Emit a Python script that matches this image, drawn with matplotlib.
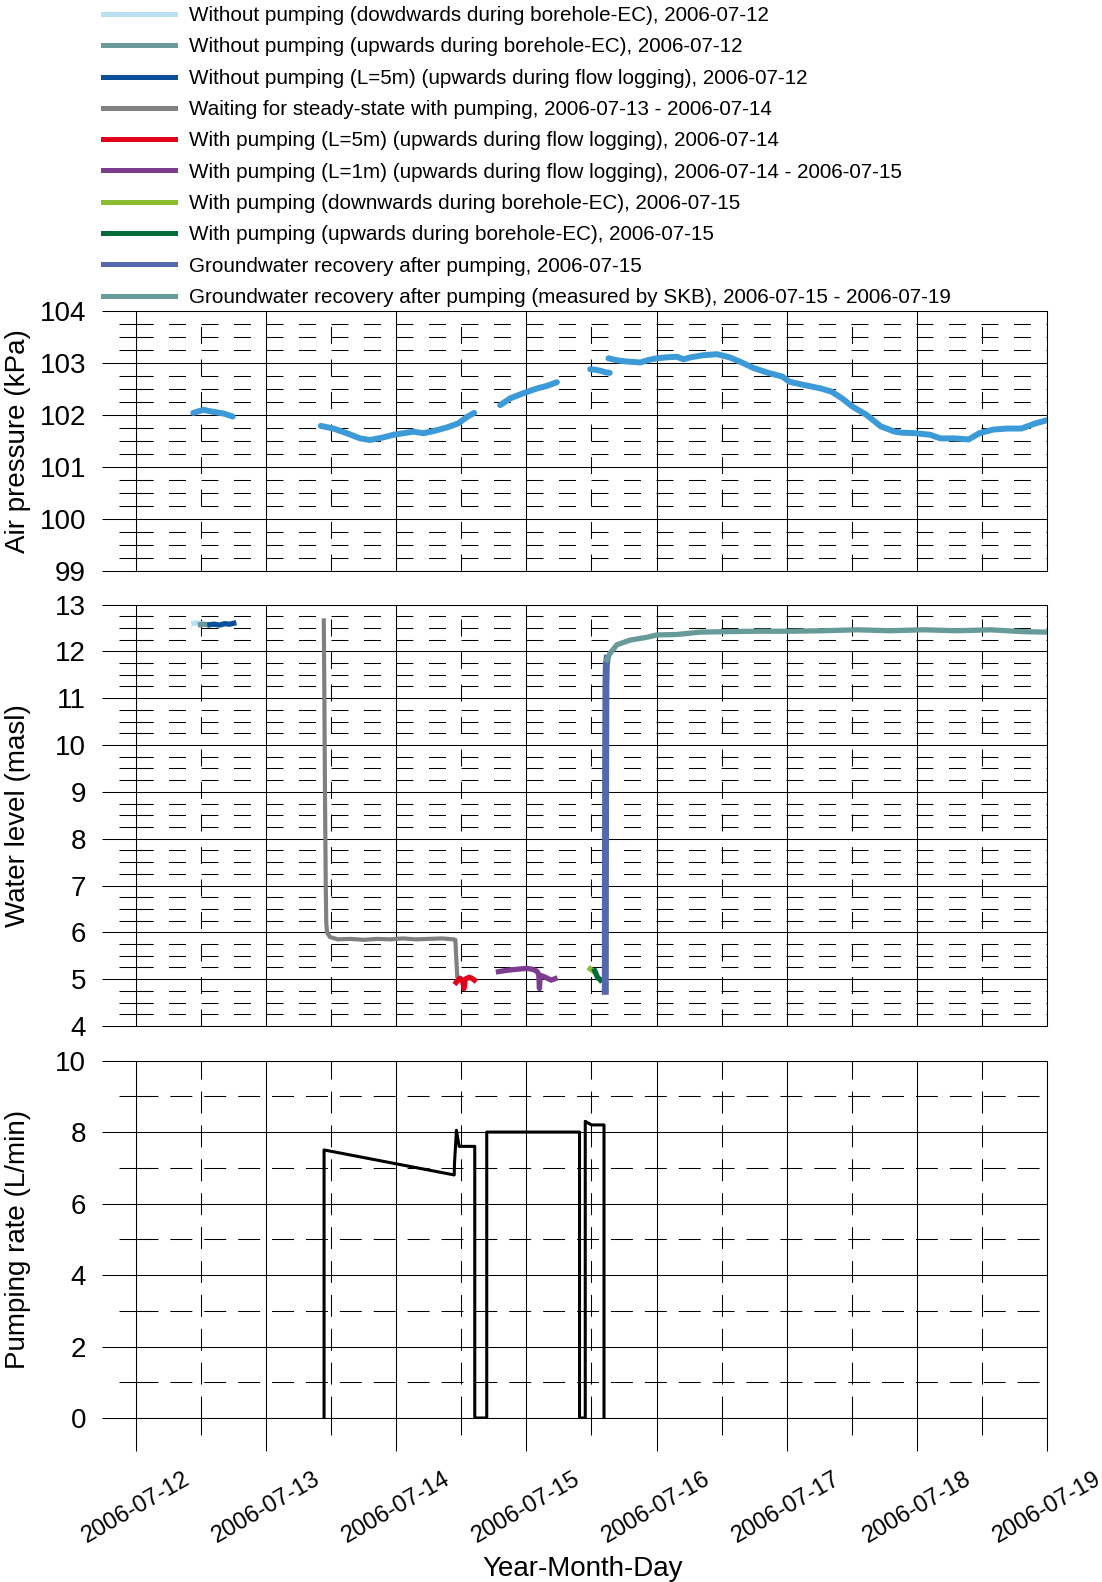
import numpy as np
import matplotlib
matplotlib.use("Agg")
import matplotlib.pyplot as plt
import matplotlib.dates as mdates
from matplotlib.lines import Line2D
from matplotlib.ticker import MultipleLocator
from datetime import datetime

plt.rcParams['font.family'] = ['Liberation Sans', 'DejaVu Sans']
plt.rcParams['lines.scale_dashes'] = False

# time values are days since 2006-07-12 00:00
start = mdates.date2num(datetime(2006, 7, 12))

# ---- Air pressure (kPa), measured in segments ----
air_t1 = [0.44, 0.517, 0.594, 0.671, 0.743]
air_p1 = [102.04, 102.10, 102.06, 102.03, 101.97]

air_t2 = [1.420, 1.517, 1.619, 1.722, 1.799, 1.901, 1.978, 2.055, 2.131,
          2.208, 2.285, 2.388, 2.477, 2.542, 2.598]
air_p2 = [101.79, 101.74, 101.65, 101.55, 101.52, 101.57, 101.62, 101.65,
          101.68, 101.65, 101.69, 101.76, 101.84, 101.96, 102.04]

air_t3 = [2.798, 2.875, 2.977, 3.080, 3.157, 3.234]
air_p3 = [102.19, 102.32, 102.42, 102.51, 102.56, 102.63]

air_t4 = [3.49, 3.53, 3.57, 3.61, 3.64]
air_p4 = [102.88, 102.87, 102.85, 102.82, 102.81]

air_t5 = [3.63, 3.70, 3.77, 3.874, 3.94, 4.00, 4.08, 4.156, 4.207, 4.263,
          4.361, 4.463, 4.56, 4.655, 4.749, 4.858, 4.966, 5.020, 5.128,
          5.263, 5.344, 5.425, 5.506, 5.615, 5.723, 5.831, 5.885, 5.993,
          6.101, 6.182, 6.290, 6.398, 6.480, 6.587, 6.696, 6.804, 6.912, 7.0]
air_p5 = [103.09, 103.05, 103.03, 103.01, 103.06, 103.09, 103.11, 103.12,
          103.07, 103.11, 103.15, 103.17, 103.11, 103.01, 102.90, 102.81,
          102.74, 102.64, 102.58, 102.51, 102.45, 102.32, 102.16, 102.00,
          101.78, 101.68, 101.66, 101.65, 101.62, 101.55, 101.55, 101.53,
          101.65, 101.72, 101.74, 101.74, 101.84, 101.90]

air_segments = [(air_t1, air_p1), (air_t2, air_p2), (air_t3, air_p3),
                (air_t4, air_p4), (air_t5, air_p5)]

# ---- Water level (masl), one series per phase ----
series = [
    ("Without pumping (dowdwards during borehole-EC), 2006-07-12", "#b9e1f2",
     [0.445, 0.47, 0.495], [12.60, 12.61, 12.59]),
    ("Without pumping (upwards during borehole-EC), 2006-07-12", "#6a9b98",
     [0.495, 0.52, 0.549], [12.57, 12.58, 12.57]),
    ("Without pumping (L=5m) (upwards during flow logging), 2006-07-12", "#0b4f9c",
     [0.568, 0.60, 0.64, 0.68, 0.72, 0.751], [12.57, 12.58, 12.56, 12.59, 12.58, 12.60]),
    ("Waiting for steady-state with pumping, 2006-07-13 - 2006-07-14", "#808080",
     [1.443, 1.447, 1.452, 1.458, 1.462, 1.468, 1.49, 1.55, 1.65, 1.75, 1.85,
      1.95, 2.05, 2.15, 2.25, 2.35, 2.44, 2.454, 2.46, 2.468],
     [12.66, 11.2, 9.0, 7.0, 6.2, 6.0, 5.90, 5.85, 5.86, 5.84, 5.86, 5.85,
      5.87, 5.85, 5.86, 5.87, 5.85, 5.84, 5.5, 5.07]),
    ("With pumping (L=5m) (upwards during flow logging), 2006-07-14", "#e2001a",
     [2.46, 2.475, 2.49, 2.51, 2.52, 2.53, 2.56, 2.58, 2.60],
     [4.93, 4.98, 5.02, 4.96, 4.80, 5.00, 5.04, 5.02, 4.98]),
    ("With pumping (L=1m) (upwards during flow logging), 2006-07-14 - 2006-07-15", "#7d3c8f",
     [2.785, 2.85, 2.92, 3.00, 3.05, 3.08, 3.095, 3.10, 3.105, 3.13, 3.16, 3.19, 3.22],
     [5.16, 5.19, 5.21, 5.23, 5.21, 5.17, 5.10, 4.80, 5.08, 5.06, 5.02, 4.98, 5.01]),
    ("With pumping (downwards during borehole-EC), 2006-07-15", "#8abd30",
     [3.49, 3.50, 3.51, 3.525], [5.22, 5.20, 5.18, 5.15]),
    ("With pumping (upwards during borehole-EC), 2006-07-15", "#006a3a",
     [3.525, 3.54, 3.55, 3.565, 3.57], [5.18, 5.08, 5.02, 5.00, 4.98]),
    ("Groundwater recovery after pumping, 2006-07-15", "#5469ad",
     [3.606, 3.607, 3.609, 3.611, 3.614, 3.62], [4.74, 7.0, 10.0, 11.3, 11.7, 11.85]),
    ("Groundwater recovery after pumping (measured by SKB), 2006-07-15 - 2006-07-19", "#669b99",
     [3.618, 3.643, 3.695, 3.797, 3.925, 4.002, 4.156, 4.335, 4.514, 4.771,
      5.027, 5.283, 5.540, 5.796, 6.052, 6.308, 6.564, 6.820, 7.0],
     [11.82, 11.96, 12.14, 12.24, 12.30, 12.35, 12.36, 12.41, 12.42, 12.43,
      12.43, 12.44, 12.46, 12.44, 12.46, 12.44, 12.46, 12.42, 12.41]),
]

# ---- Pumping rate (L/min) ----
pump_t = [1.445, 1.445, 2.445, 2.447, 2.462, 2.483, 2.603, 2.603, 2.695,
          2.695, 3.408, 3.408, 3.452, 3.452, 3.50, 3.596, 3.596]
pump_q = [0, 7.5, 6.8, 7.1, 8.05, 7.6, 7.6, 0, 0, 8.0, 8.0, 0, 0, 8.3, 8.2, 8.2, 0]


def days(v):
    return start + np.asarray(v, dtype=float)


def style(ax, lo, hi, major, minor, dash):
    ax.set_xlim(start, start + 7)
    ax.set_ylim(lo, hi)
    ax.xaxis.set_major_locator(mdates.DayLocator())
    ax.xaxis.set_minor_locator(mdates.HourLocator(byhour=12))
    ax.yaxis.set_major_locator(MultipleLocator(major))
    ax.yaxis.set_minor_locator(MultipleLocator(minor))
    ax.grid(which='major', color='black', lw=0.75, ls='-')
    ax.grid(which='minor', color='black', lw=0.75, ls=(0, dash))
    ax.tick_params(axis='y', which='major', direction='out', length=24.5,
                   width=0.75, pad=11.5, labelsize=20)
    ax.tick_params(axis='y', which='minor', direction='inout', length=24.5, width=0.75)
    for s in ax.spines.values():
        s.set_linewidth(0.75)


fig = plt.figure(figsize=(11.02, 15.82), dpi=100)
ax1 = fig.add_axes([0.12341, 0.63906, 0.82668, 0.16435])
ax2 = fig.add_axes([0.12341, 0.35145, 0.82668, 0.26643])
ax3 = fig.add_axes([0.12341, 0.10367, 0.82668, 0.22592])

# Air pressure
for t, p in air_segments:
    ax1.plot(days(t), p, color="#3d9ad8", lw=4.3, solid_capstyle='round')
style(ax1, 99, 104, 1, 0.25, (12.2, 11.2))
ax1.tick_params(axis='x', which='both', length=0, labelbottom=False)
ax1.set_ylabel("Air pressure (kPa)", fontsize=20)

# Water level
handles = []
for label, color, t, h in series:
    lw = 3.0 if color == "#808080" else (5.0 if color == "#5469ad" else 3.8)
    ax2.plot(days(t), h, color=color, lw=lw)
    handles.append(Line2D([], [], color=color, lw=3.6, label=label))
style(ax2, 4, 13, 1, 0.25, (12.2, 11.2))
ax2.tick_params(axis='x', which='both', length=0, labelbottom=False)
ax2.set_ylabel("Water level (masl)", fontsize=20)

# Pumping rate
ax3.plot(days(pump_t), pump_q, color="black", lw=2.2)
style(ax3, 0, 10, 2, 1, (15.8, 8.6))
ax3.xaxis.set_major_formatter(mdates.DateFormatter('%Y-%m-%d'))
ax3.tick_params(axis='x', which='major', direction='out', length=24,
                width=0.75, pad=12, labelsize=17, labelrotation=30)
ax3.tick_params(axis='x', which='minor', direction='inout', length=24.5, width=0.75)
ax3.set_ylabel("Pumping rate (L/min)", fontsize=20)
ax3.set_xlabel("Year-Month-Day", fontsize=20)

for ax in (ax1, ax2, ax3):
    ax.yaxis.set_label_coords(-0.1153, 0.5)
ax3.xaxis.set_label_coords(0.4907, -0.386)

fig.legend(handles=handles, loc='upper left',
           bbox_to_anchor=(102.7 / 1102, 1 - 6.2 / 1582),
           frameon=False, fontsize=14.9, handlelength=3.48,
           handletextpad=0.68, labelspacing=0.594, borderpad=0,
           borderaxespad=0)

fig.savefig("out.png", dpi=100)
